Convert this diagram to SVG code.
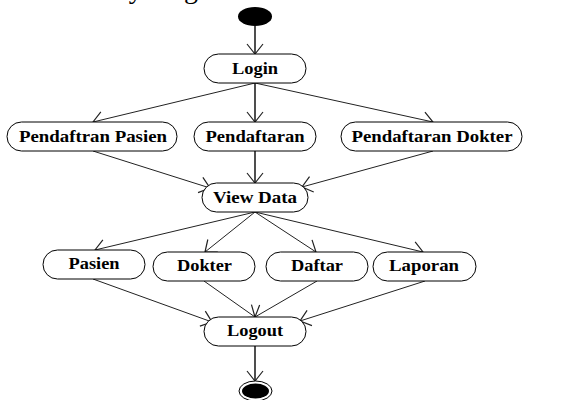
<svg xmlns="http://www.w3.org/2000/svg" width="569" height="400" viewBox="0 0 569 400">
  <style>
    .node rect { fill: #fff; stroke: #000; stroke-width: 1; }
    .node text { font-family: "Liberation Serif", "Times New Roman", serif; font-weight: bold; font-size: 16px; text-anchor: middle; fill: #000; }
    .edge { stroke: #222; stroke-width: 1; fill: none; marker-end: url(#open); }
    .edge.v { stroke-width: 1.6; }
    .title { font-family: "Liberation Serif", "Times New Roman", serif; font-size: 28px; fill: #000; }
  </style>
  <defs>
    <marker id="open" viewBox="-12 -10 14 20" refX="0" refY="0" markerWidth="14" markerHeight="20" markerUnits="userSpaceOnUse" orient="auto">
      <path d="M-10,-8 L0,0 L-10,8" fill="none" stroke="#222" stroke-width="1.2"/>
    </marker>
  </defs>
  <rect width="569" height="400" fill="#fff"/>

  <!-- heading, mostly above the top edge -->
  <text class="title" x="51" y="-2">Activity diagram</text>

  <g id="connectors">
    <line class="edge v" x1="255" y1="26" x2="255" y2="54"/>
    <line class="edge" x1="255" y1="83" x2="93" y2="122"/>
    <line class="edge v" x1="255" y1="83" x2="255" y2="122"/>
    <line class="edge" x1="255" y1="83" x2="433" y2="122"/>
    <line class="edge" x1="93" y1="151" x2="210" y2="188"/>
    <line class="edge v" x1="255" y1="151" x2="255" y2="183"/>
    <line class="edge" x1="433" y1="151" x2="302" y2="187"/>
    <line class="edge" x1="255" y1="212" x2="95" y2="250"/>
    <line class="edge" x1="255" y1="212" x2="205" y2="252"/>
    <line class="edge" x1="255" y1="212" x2="316" y2="252"/>
    <line class="edge" x1="255" y1="212" x2="423" y2="252"/>
    <line class="edge" x1="93" y1="279" x2="212" y2="322"/>
    <line class="edge" x1="204" y1="281" x2="255" y2="317"/>
    <line class="edge" x1="317" y1="281" x2="255" y2="317"/>
    <line class="edge" x1="425" y1="281" x2="300" y2="321"/>
    <line class="edge v" x1="255" y1="346" x2="255" y2="381"/>
  </g>

  <g id="start">
    <ellipse cx="255" cy="16.5" rx="17" ry="9.5" fill="#000"/>
  </g>

  <g id="login" class="node">
    <rect x="204" y="54" width="102" height="29" rx="14.5"/>
    <text x="255" y="74" textLength="46" lengthAdjust="spacingAndGlyphs">Login</text>
  </g>

  <g id="pendaftran-pasien" class="node">
    <rect x="7" y="122" width="170" height="29" rx="14.5"/>
    <text x="93" y="142" textLength="148" lengthAdjust="spacingAndGlyphs">Pendaftran Pasien</text>
  </g>

  <g id="pendaftaran" class="node">
    <rect x="194" y="122" width="122" height="29" rx="14.5"/>
    <text x="255" y="142" textLength="99" lengthAdjust="spacingAndGlyphs">Pendaftaran</text>
  </g>

  <g id="pendaftaran-dokter" class="node">
    <rect x="341" y="122" width="181" height="29" rx="14.5"/>
    <text x="432" y="142" textLength="161" lengthAdjust="spacingAndGlyphs">Pendaftaran Dokter</text>
  </g>

  <g id="view-data" class="node">
    <rect x="202" y="183" width="106" height="29" rx="14.5"/>
    <text x="255" y="203" textLength="84" lengthAdjust="spacingAndGlyphs">View Data</text>
  </g>

  <g id="pasien" class="node">
    <rect x="43" y="250" width="102" height="29" rx="14.5"/>
    <text x="94" y="269" textLength="51" lengthAdjust="spacingAndGlyphs">Pasien</text>
  </g>

  <g id="dokter" class="node">
    <rect x="153" y="252" width="102" height="29" rx="14.5"/>
    <text x="204.5" y="271" textLength="55" lengthAdjust="spacingAndGlyphs">Dokter</text>
  </g>

  <g id="daftar" class="node">
    <rect x="266" y="252" width="102" height="29" rx="14.5"/>
    <text x="317" y="271" textLength="52" lengthAdjust="spacingAndGlyphs">Daftar</text>
  </g>

  <g id="laporan" class="node">
    <rect x="373" y="252" width="103" height="29" rx="14.5"/>
    <text x="424" y="271" textLength="70" lengthAdjust="spacingAndGlyphs">Laporan</text>
  </g>

  <g id="logout" class="node">
    <rect x="204" y="317" width="102" height="29" rx="14.5"/>
    <text x="255" y="336" textLength="56" lengthAdjust="spacingAndGlyphs">Logout</text>
  </g>

  <g id="end">
    <ellipse cx="255.5" cy="391" rx="16.5" ry="10" fill="#fff" stroke="#000" stroke-width="1"/>
    <ellipse cx="255.5" cy="391" rx="13.5" ry="7.5" fill="#000"/>
  </g>
</svg>
